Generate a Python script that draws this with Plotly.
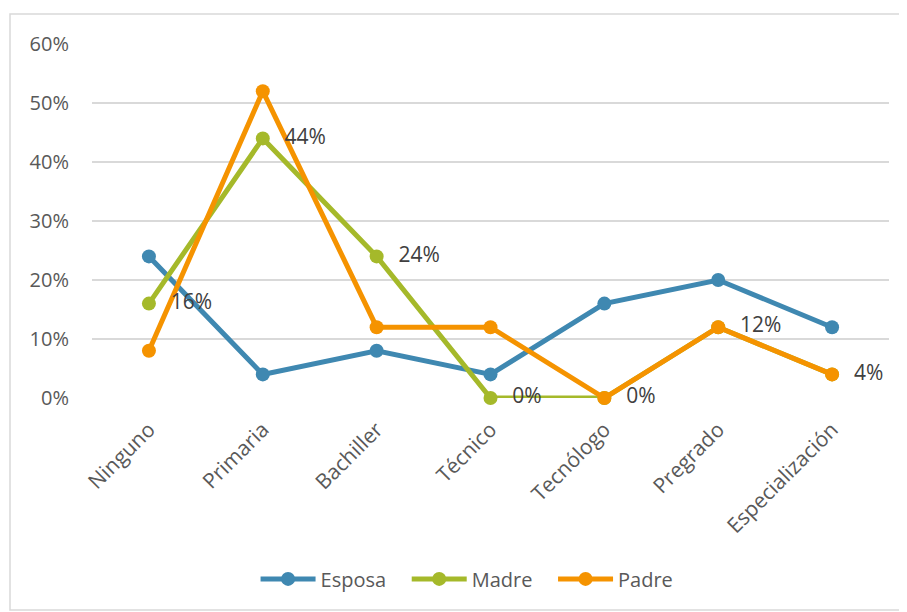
import plotly.graph_objects as go

categories = ["Ninguno", "Primaria", "Bachiller", "Técnico", "Tecnólogo", "Pregrado", "Especialización"]
esposa = [0.24, 0.04, 0.08, 0.04, 0.16, 0.20, 0.12]
madre = [0.16, 0.44, 0.24, 0.00, 0.00, 0.12, 0.04]
padre = [0.08, 0.52, 0.12, 0.12, 0.00, 0.12, 0.04]
y_ticks = [0, 0.1, 0.2, 0.3, 0.4, 0.5, 0.6]
y_tick_labels = ["0%", "10%", "20%", "30%", "40%", "50%", "60%"]

FONT = "Open Sans"
NB = "\u00a0"
fig = go.Figure()
for name, vals, col in [("Esposa", esposa, "#3F88B1"), ("Madre", madre, "#A5B92A"), ("Padre", padre, "#F59300")]:
    fig.add_trace(go.Scatter(x=categories, y=vals, name=name + NB * 3, mode="lines+markers",
                             line=dict(color=col, width=5), marker=dict(size=14),
                             cliponaxis=False))
# data labels for Madre series
fig.add_trace(go.Scatter(x=categories, y=madre, mode="text", showlegend=False,
                         text=[NB * 4 + f"{round(v*100)}%" for v in madre],
                         textposition="middle right",
                         textfont=dict(family=FONT, size=21, color="#404040"),
                         cliponaxis=False, hoverinfo="skip"))

fig.update_layout(
    width=907, height=612,
    margin=dict(l=84, r=26, t=36, b=222),
    paper_bgcolor="white", plot_bgcolor="white",
    font=dict(family=FONT, size=20, color="#595959"),
    legend=dict(orientation="h", x=0.48, xanchor="center", y=-0.511, yanchor="middle",
                itemwidth=55,
                font=dict(family=FONT, size=20, color="#595959")),
    xaxis=dict(tickangle=-45, showgrid=False, showline=False, zeroline=False,
               range=[-0.5, 6.5],
               tickfont=dict(family=FONT, size=21, color="#595959"),
               ticks="outside", ticklen=10, tickcolor="rgba(0,0,0,0)"),
    yaxis=dict(range=[0, 0.6], tickvals=y_ticks, ticktext=y_tick_labels,
               showgrid=True, gridcolor="#D9D9D9", gridwidth=1.5, zeroline=False,
               tickfont=dict(family=FONT, size=20, color="#595959"), ticklabelstandoff=22),
    shapes=[dict(type="rect", xref="paper", yref="paper",
                 x0=(2 - 84) / 797, x1=(897 - 84) / 797,
                 y0=(390 - 602) / 354, y1=(390 - 6) / 354,
                 line=dict(color="#D9D9D9", width=1.5), layer="below")],
)
fig.write_html("out.html")
